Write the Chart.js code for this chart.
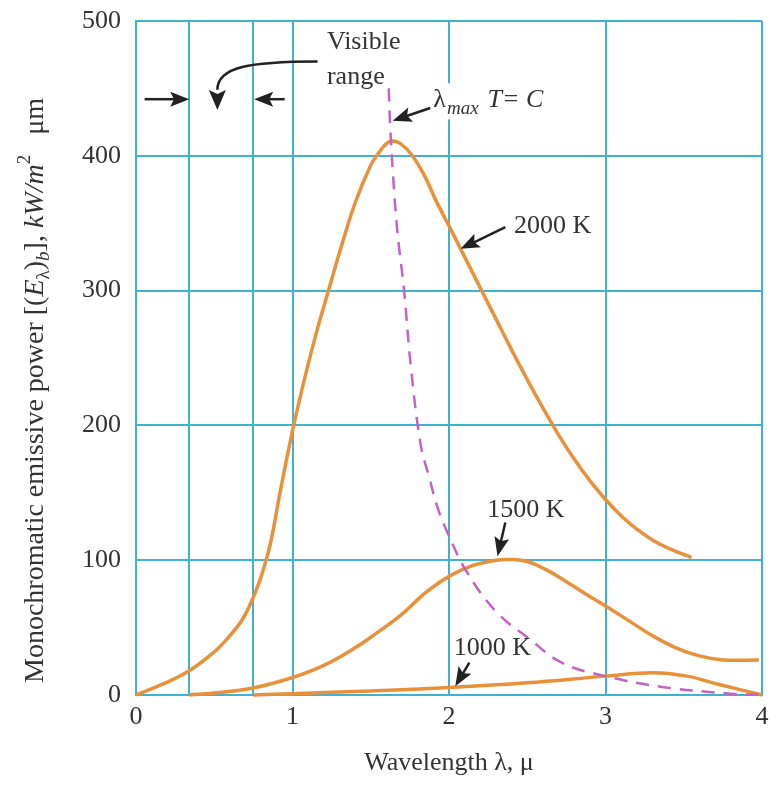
<!DOCTYPE html>
<html><head><meta charset="utf-8">
<script src="https://cdn.jsdelivr.net/npm/chart.js@4.4.1/dist/chart.umd.min.js"></script>
<style>html,body{margin:0;padding:0;background:#fff;}canvas{display:block;}</style>
</head><body>
<canvas id="c" width="769" height="787"></canvas>
<script>
// ---- axis ticks ----
const xTickValues = [0, 0.34, 0.75, 1, 2, 3, 4];
const xTickLabels = ['0', '', '', '1', '2', '3', '4'];
const yTickValues = [0, 100, 200, 300, 400, 500];
const yTickLabels = ['0', '100', '200', '300', '400', '500'];

// ---- series (wavelength in micron, emissive power kW/m2 um) ----
const wl2000 = [0, 0.17, 0.34, 0.5, 0.6, 0.68, 0.74, 0.8, 0.86, 0.92, 1.0, 1.08, 1.16, 1.23, 1.3, 1.4, 1.5, 1.55, 1.6, 1.64, 1.69, 1.76, 1.84, 1.92, 2.0, 2.1, 2.2, 2.3, 2.4, 2.5, 2.6, 2.7, 2.8, 2.9, 3.0, 3.1, 3.2, 3.3, 3.4, 3.55];
const e2000  = [0, 8, 18, 32, 44, 56, 70, 88, 113, 150, 196, 236, 272, 300, 328, 365, 393, 402, 409, 411, 409, 401, 386, 366, 348, 325, 302, 279, 256, 234, 213, 193, 175, 159, 145, 133, 123, 115, 109, 102];

const wl1500 = [0.34, 0.5, 0.74, 1.0, 1.2, 1.4, 1.55, 1.7, 1.85, 2.0, 2.15, 2.3, 2.4, 2.5, 2.62, 2.75, 2.9, 3.0, 3.15, 3.3, 3.45, 3.6, 3.75, 3.98];
const e1500  = [0, 1.5, 5, 13, 22, 35, 47, 60, 76, 88, 96, 100, 100.5, 99, 93, 84, 73, 66, 55, 44, 35, 29, 26, 26];

const wl1000 = [0.75, 1.0, 1.5, 2.0, 2.5, 3.0, 3.3, 3.52, 3.72, 4.0];
const e1000  = [0, 1, 3, 5.5, 9, 14, 16.5, 14, 8, 0];

const wlMax = [1.615, 1.625, 1.64, 1.67, 1.713, 1.755, 1.82, 1.87, 1.93, 2.0, 2.11, 2.3, 2.51, 2.72, 3.0, 3.36, 3.8, 4.0];
const eMax  = [450, 420, 390, 344, 300, 245, 185, 163, 138, 118, 92, 62, 42, 24, 14, 6, 1, 0];

const zip = (xs, ys) => xs.map((x, i) => ({x: x, y: ys[i]}));

const FONT = "'Liberation Serif', 'DejaVu Serif', serif";
const TXT = '#333333';
const GRID = '#3fb1d3';
const ORANGE = '#e8913a';

// ---- annotations (data coordinates) ----
const annoTexts = [
  {t: 'Visible', x: 1.22, y: 484},
  {t: 'range',   x: 1.22, y: 458},
  {t: '2000 K',  x: 2.415, y: 348},
  {t: '1500 K',  x: 2.245, y: 137},
  {t: '1000 K',  x: 2.03, y: 35}
];
const annoArrows = [
  {x0: 0.055, y0: 442, x1: 0.34, y1: 442},
  {x0: 0.95,  y0: 442, x1: 0.755, y1: 442},
  {x0: 1.88,  y0: 435.5, x1: 1.64, y1: 426},
  {x0: 2.36,  y0: 347, x1: 2.074, y1: 331},
  {x0: 2.36,  y0: 128, x1: 2.31, y1: 103},
  {x0: 2.13,  y0: 24,  x1: 2.04, y1: 6.5}
];
const curvedArrow = {p0: [1.16, 470], c1: [0.73, 470], c2: [0.52, 466], p1: [0.52, 449], tip: [0.52, 434]};
const lambdaLabel = {x: 1.90, y: 436};

function drawHead(ctx, tx, ty, fx, fy, len, wid) {
  const a = Math.atan2(ty - fy, tx - fx);
  const c = Math.cos(a), s = Math.sin(a);
  const bx = tx - len * c, by = ty - len * s;
  ctx.beginPath();
  ctx.moveTo(tx, ty);
  ctx.lineTo(bx - wid / 2 * s, by + wid / 2 * c);
  ctx.lineTo(bx + len * 0.2 * c, by + len * 0.2 * s);
  ctx.lineTo(bx + wid / 2 * s, by - wid / 2 * c);
  ctx.closePath();
  ctx.fill();
  return [bx + len * 0.3 * c, by + len * 0.3 * s];
}

const annoPlugin = {
  id: 'anno',
  afterDatasetsDraw(chart) {
    const ctx = chart.ctx, X = chart.scales.x, Y = chart.scales.y;
    const px = v => X.getPixelForValue(v), py = v => Y.getPixelForValue(v);
    ctx.save();
    ctx.fillStyle = '#222';
    ctx.strokeStyle = '#222';
    ctx.lineWidth = 2.5;
    annoArrows.forEach(a => {
      const tx = px(a.x1), ty = py(a.y1), fx = px(a.x0), fy = py(a.y0);
      const b = drawHead(ctx, tx, ty, fx, fy, 19, 15);
      ctx.beginPath(); ctx.moveTo(fx, fy); ctx.lineTo(b[0], b[1]); ctx.stroke();
    });
    const ca = curvedArrow;
    ctx.beginPath();
    ctx.moveTo(px(ca.p0[0]), py(ca.p0[1]));
    ctx.bezierCurveTo(px(ca.c1[0]), py(ca.c1[1]), px(ca.c2[0]), py(ca.c2[1]), px(ca.p1[0]), py(ca.p1[1]));
    ctx.stroke();
    drawHead(ctx, px(ca.tip[0]), py(ca.tip[1]), px(ca.p1[0]), py(ca.p1[1]) - 5, 20, 17);
    ctx.textBaseline = 'middle';
    ctx.textAlign = 'left';
    ctx.font = '26px ' + FONT;
    annoTexts.forEach(o => {
      ctx.fillStyle = TXT;
      ctx.fillText(o.t, px(o.x), py(o.y));
    });
    const lx = px(lambdaLabel.x), ly = py(lambdaLabel.y);
    ctx.textBaseline = 'alphabetic';
    ctx.font = '26px ' + FONT;
    const w1 = ctx.measureText('λ').width;
    ctx.font = 'italic 19px ' + FONT;
    const w2 = ctx.measureText('max').width;
    ctx.font = 'italic 26px ' + FONT;
    const w3 = ctx.measureText('T= C').width;
    ctx.fillStyle = '#fff';
    ctx.fillRect(lx - 2, ly - 24, w1 + w2 + 10 + w3 + 4, 36);
    ctx.fillStyle = TXT;
    ctx.font = '26px ' + FONT;
    ctx.fillText('λ', lx, ly);
    ctx.font = 'italic 19px ' + FONT;
    ctx.fillText('max', lx + w1 + 1, ly + 7);
    ctx.font = 'italic 26px ' + FONT;
    ctx.fillText('T= C', lx + w1 + w2 + 10, ly);
    ctx.restore();
  }
};

const yTitlePlugin = {
  id: 'ytitle',
  afterDraw(chart) {
    const ctx = chart.ctx;
    const segs = [
      {t: 'Monochromatic emissive power [(', f: '28px ', d: 0},
      {t: 'E', f: 'italic 28px ', d: 0},
      {t: 'λ', f: '19px ', d: 6},
      {t: ')', f: '28px ', d: 0},
      {t: 'b', f: 'italic 19px ', d: 6},
      {t: '], ', f: '28px ', d: 0},
      {t: 'kW/m', f: 'italic 28px ', d: 0},
      {t: '2', f: '19px ', d: -13, gap: 20},
      {t: 'μm', f: '28px ', d: 0}
    ];
    ctx.save();
    ctx.translate(43, chart.chartArea.bottom - 12);
    ctx.rotate(-Math.PI / 2);
    ctx.fillStyle = TXT;
    ctx.textBaseline = 'alphabetic';
    ctx.textAlign = 'left';
    let x = 0;
    segs.forEach(s => {
      ctx.font = s.f + FONT;
      ctx.fillText(s.t, x, s.d);
      x += ctx.measureText(s.t).width + (s.gap || 0);
    });
    ctx.restore();
  }
};

new Chart(document.getElementById('c'), {
  type: 'line',
  data: {
    datasets: [
      {label: 'λmax T = C', data: zip(wlMax, eMax), borderColor: '#c462c6', borderWidth: 2.5, borderDash: [13, 9]},
      {label: '2000 K', data: zip(wl2000, e2000), borderColor: ORANGE, borderWidth: 3.5},
      {label: '1500 K', data: zip(wl1500, e1500), borderColor: ORANGE, borderWidth: 3.5},
      {label: '1000 K', data: zip(wl1000, e1000), borderColor: ORANGE, borderWidth: 3.5}
    ]
  },
  options: {
    responsive: false,
    animation: false,
    events: [],
    layout: {padding: {left: 0, right: 7, top: 21, bottom: 0}},
    elements: {
      point: {radius: 0},
      line: {tension: 0.4, fill: false}
    },
    datasets: {line: {clip: 6}},
    plugins: {legend: {display: false}, tooltip: {enabled: false}},
    scales: {
      x: {
        type: 'linear', min: 0, max: 4,
        afterBuildTicks: s => { s.ticks = xTickValues.map(v => ({value: v})); },
        afterFit: s => { s.height = 92; s.paddingLeft = 0; s.paddingRight = 0; },
        grid: {color: GRID, lineWidth: 2, drawTicks: false},
        border: {display: true, color: GRID, width: 2},
        ticks: {
          autoSkip: false, maxRotation: 0, padding: 7, color: TXT,
          font: {family: FONT, size: 26},
          callback: (v, i) => xTickLabels[i]
        },
        title: {display: true, text: 'Wavelength λ, μ', color: TXT, font: {family: FONT, size: 26}, padding: {top: 0, bottom: 8}}
      },
      y: {
        type: 'linear', min: 0, max: 500,
        afterBuildTicks: s => { s.ticks = yTickValues.map(v => ({value: v})); },
        afterFit: s => { s.width = 136; s.paddingTop = 0; s.paddingBottom = 0; },
        grid: {color: GRID, lineWidth: 2, drawTicks: false},
        border: {display: true, color: GRID, width: 2},
        ticks: {
          padding: 15, color: TXT,
          font: {family: FONT, size: 26},
          callback: (v, i) => yTickLabels[i]
        }
      }
    }
  },
  plugins: [annoPlugin, yTitlePlugin]
});
</script>
</body></html>
